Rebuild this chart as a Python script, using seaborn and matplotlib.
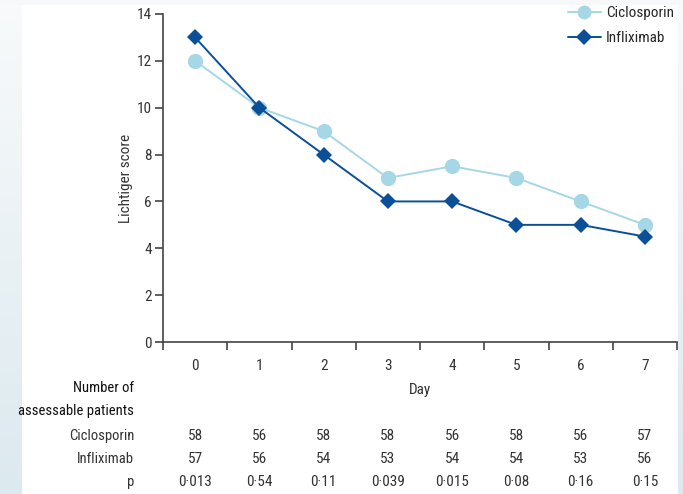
import numpy as np
import pandas as pd
import matplotlib
matplotlib.use("Agg")
import matplotlib.pyplot as plt
import matplotlib.transforms as mtransforms
from matplotlib import font_manager
from matplotlib.colors import LinearSegmentedColormap
from matplotlib.lines import Line2D
import seaborn as sns

days = [0, 1, 2, 3, 4, 5, 6, 7]
ciclosporin = [12, 10, 9, 7, 7.5, 7, 6, 5]
infliximab = [13, 10, 8, 6, 6, 5, 5, 4.5]
n_ciclosporin = ["58", "56", "58", "58", "56", "58", "56", "57"]
n_infliximab = ["57", "56", "54", "53", "54", "54", "53", "56"]
p_values = ["0·013", "0·54", "0·11", "0·039", "0·015", "0·08", "0·16", "0·15"]
y_ticks = [0, 2, 4, 6, 8, 10, 12, 14]

sns.set_style("ticks")
names = {f.name for f in font_manager.fontManager.ttflist}
fam = [f for f in ["Liberation Sans Narrow", "Roboto Condensed", "Open Sans Condensed", "Lato", "DejaVu Sans"] if f in names]
plt.rcParams["font.family"] = fam + ["DejaVu Sans"]

df = pd.DataFrame({
    "Day": days * 2,
    "Score": ciclosporin + infliximab,
    "Group": ["Ciclosporin"] * len(days) + ["Infliximab"] * len(days),
})

W, H = 683, 494
fig = plt.figure(figsize=(W / 100, H / 100), dpi=100)
fig.patch.set_facecolor("white")

# background frame (light gradient strips)
bg = fig.add_axes([0, 0, 1, 1], zorder=-10)
bg.set_xlim(0, W)
bg.set_ylim(H, 0)
bg.axis("off")
grad = np.linspace(0, 1, 100).reshape(-1, 1)
cm = LinearSegmentedColormap.from_list("g", ["#f8fafb", "#dce9ef"])
bg.imshow(grad, cmap=cm, extent=(0, 22, H, 0), aspect="auto")
bg.imshow(grad, cmap=cm, extent=(678, W, H, 0), aspect="auto")
bg.add_patch(plt.Rectangle((0, 0), W, 5, color="#f6f8f9", lw=0))

x0, x1 = 163, 677
y_top, y_bot = 14, 342
ax = fig.add_axes([x0 / W, 1 - y_bot / H, (x1 - x0) / W, (y_bot - y_top) / H])
ax.set_facecolor("none")

pal = {"Ciclosporin": "#a6d7e6", "Infliximab": "#0b4f98"}
sns.lineplot(data=df, x="Day", y="Score", hue="Group", style="Group",
             markers={"Ciclosporin": "o", "Infliximab": "D"}, dashes=False,
             palette=pal, markersize=10, linewidth=1.4, markeredgewidth=0,
             ax=ax, legend=False)
for ln in ax.lines:
    ln.set_clip_on(False)
ax.lines[0].set_markersize(11)
ax.lines[1].set_markersize(8.5)

ax.set_xlim(-0.5, 7.5)
ax.set_ylim(0, 14)
ax.set_yticks(y_ticks)
ax.set_xticks(days)
ax.set_xticks(np.arange(-0.5, 8, 1), minor=True)
ax.tick_params(axis="x", which="major", length=0, pad=12, labelsize=11, colors="#333333")
ax.tick_params(axis="x", which="minor", length=6, width=1.2, color="#444444", direction="out")
ax.tick_params(axis="y", length=6, width=1.2, color="#444444", labelsize=11, labelcolor="#333333", pad=2)
for s in ["top", "right"]:
    ax.spines[s].set_visible(False)
for s in ["left", "bottom"]:
    ax.spines[s].set_color("#444444")
    ax.spines[s].set_linewidth(1.2)
ax.set_xlabel("")
ax.set_ylabel("Lichtiger score", fontsize=11, color="#333333", labelpad=3)

# legend
handles = [Line2D([], [], color=pal["Ciclosporin"], marker="o", markersize=10, markeredgewidth=0, lw=1.4),
           Line2D([], [], color=pal["Infliximab"], marker="D", markersize=8, markeredgewidth=0, lw=1.4)]
fig.legend(handles, ["Ciclosporin", "Infliximab"], loc="upper right",
           bbox_to_anchor=(683 / W, 1 + 3 / H), frameon=False, fontsize=11,
           handlelength=2.2, handletextpad=0.3, labelspacing=0.7, borderaxespad=0.2)

# table beneath
trans = mtransforms.blended_transform_factory(ax.transData, fig.transFigure)
fy = lambda py: 1 - py / H
txtc = "#333333"
fs = 10.5
fig.text(134 / W, fy(388), "Number of", ha="right", va="center", fontsize=fs, color="#111111")
fig.text(134 / W, fy(411), "assessable patients", ha="right", va="center", fontsize=fs, color="#111111")
ax.text(3.5, fy(390), "Day", transform=trans, ha="center", va="center", fontsize=11, color=txtc)
rows = [("Ciclosporin", n_ciclosporin, 436), ("Infliximab", n_infliximab, 459), ("p", p_values, 482)]
for label, vals, py in rows:
    fig.text(134 / W, fy(py), label, ha="right", va="center", fontsize=fs, color=txtc)
    for d, v in zip(days, vals):
        ax.text(d, fy(py), v, transform=trans, ha="center", va="center", fontsize=11, color=txtc)

fig.savefig("out.png", dpi=100, facecolor="white")
